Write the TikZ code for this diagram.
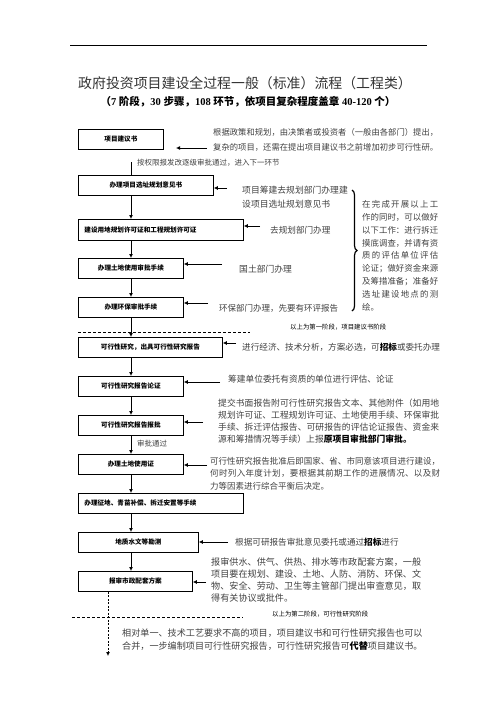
\documentclass[tikz,border=0pt]{standalone}
\usepackage{fontspec}
\setmainfont{Liberation Serif}
\newfontfamily\cjk{Noto Sans CJK SC}
\usetikzlibrary{arrows.meta,decorations.pathreplacing}
\makeatletter
\newcommand\jline[2]{\makebox[#1][s]{\jl@#2\@nil}}
\def\jl@#1#2\@nil{#1\ifx\relax#2\relax\else\hfil\jl@#2\@nil\fi}
\makeatother
\newcommand\hl[1]{{\color{black}\bfseries #1}}
\newcommand\dfont[2]{\cjk\fontsize{#1}{#2}\selectfont}

\begin{document}
\begin{tikzpicture}[x=1pt,y=-1pt,
  box/.style={draw,line width=0.8pt,anchor=north west,inner sep=0pt,minimum height=20pt,
    font=\cjk\bfseries\fontsize{6.6}{8}\selectfont},
  desc/.style={inner sep=0pt,text=black!75,align=left},
  stage/.style={inner sep=0pt,anchor=west,font=\dfont{6.4}{8}},
  flow/.style={-{Latex[length=4pt,width=4pt]},line width=0.9pt},
  sep/.style={line width=0.7pt,dash pattern=on 3pt off 2pt}]
  \useasboundingbox (0,0) rectangle (496,702);

  % heading
  \coordinate (ruleL) at (70,45);
  \coordinate (ruleR) at (427,45);
  \draw[line width=0.8pt] (ruleL) -- (ruleR);
  \node[text=black!80,font=\dfont{13.9}{16}] (title) at (245,83) {政府投资项目建设全过程一般（标准）流程（工程类）};
  \node[font=\bfseries\fontsize{10.5}{12}\selectfont] (sub) at (248,102)
    {{\cjk （}7 {\cjk 阶段，}30 {\cjk 步骤，}108 {\cjk 环节，依项目复杂程度盖章} 40-120 {\cjk 个）}};

  % steps
  \node[box,minimum width=85pt]  (b1)  at (78,129) {项目建议书};
  \node[box,minimum width=135pt] (b2)  at (78,175) {办理项目选址规划意见书};
  \node[box,minimum width=165pt,minimum height=21pt,text width=153pt,align=left] (b3) at (78,219) {建设用地规划许可证和工程规划许可证};
  \node[box,minimum width=105pt] (b4)  at (78,258) {办理土地使用审批手续};
  \node[box,minimum width=105pt] (b5)  at (78,297) {办理环保审批手续};
  \node[box,minimum width=144pt] (b6)  at (78,337) {可行性研究，出具可行性研究报告};
  \node[box,minimum width=105pt] (b7)  at (78,376) {可行性研究报告论证};
  \node[box,minimum width=105pt] (b8)  at (78,415) {可行性研究报告报批};
  \node[box,minimum width=105pt] (b9)  at (78,454) {办理土地使用证};
  \node[box,minimum width=165pt,text width=153pt,align=left] (b10) at (78,493) {办理征地、青苗补偿、拆迁安置等手续};
  \node[box,minimum width=120pt] (b11) at (78,532) {地质水文等勘测};
  \node[box,minimum width=114pt] (b12) at (78,571) {报审市政配套方案};

  % main line
  \coordinate (spine) at (131,0);
  \coordinate (b1gap) at (131,162);
  \draw[line width=0.9pt] (b1gap) -- (b2.north -| spine);
  \foreach \a/\b in {b2/b3,b3/b4,b4/b5,b5/b6,b6/b7,b7/b8,b8/b9,b9/b10,b10/b11,b11/b12} {
      \draw[flow] (\a.south -| spine) -- (\b.north -| spine);
  }
  \coordinate (fin) at (108,656);
  \draw[flow,dash pattern=on 2pt off 1.5pt] (b12.south -| fin) -- (fin);

  % arrows from the notes
  \coordinate (a1) at (207,148);
  \coordinate (a1e) at (176,148);
  \draw[flow] (a1) -- (a1e);
  \foreach \n/\x/\y in {2/227/188,3/260/226,4/222/264,5/208/303,6/236/343,7/220/382,8/203/422,9/207/465,11/228/542,12/206/582} {
      \coordinate (a\n) at (\x,\y);
      \draw[flow] (a\n) -- (a\n -| b\n.east);
  }

  % stage one notes
  \node[desc,anchor=north west,font=\dfont{8.3}{15}] (d1) at (213,128)
    {\jline{225pt}{根据政策和规划，由决策者或投资者（一般由各部门）提出，}\\
     \jline{225pt}{复杂的项目，还需在提出项目建议书之前增加初步可行性研。}};
  \node[desc,anchor=west,font=\dfont{7.5}{9}] (n1) at (137,163) {按权限报发改逐级审批通过，进入下一环节};
  \node[desc,anchor=north west,font=\dfont{8.8}{14}] (d2) at (242,186) {项目筹建去规划部门办理建\\设项目选址规划意见书};
  \node[desc,anchor=west,font=\dfont{8.6}{10}] (d3) at (270,230) {去规划部门办理};
  \node[desc,anchor=west,font=\dfont{8.8}{10}] (d4) at (239,269) {国土部门办理};
  \node[desc,anchor=west,font=\dfont{8.5}{10}] (d5) at (219,308) {环保部门办理，先要有环评报告};
  \coordinate (brT) at (352,190);
  \coordinate (brB) at (352,311);
  \draw[decorate,decoration={brace,amplitude=5pt},line width=1.2pt] (brT) -- (brB);
  \node[desc,anchor=north west,font=\dfont{8.4}{12.9}] (d6) at (362,200)
    {\jline{76pt}{在完成开展以上工}\\ \jline{76pt}{作的同时，可以做好}\\ \jline{76pt}{以下工作：进行拆迁}\\
     \jline{76pt}{摸底调查，并请有资}\\ \jline{76pt}{质的评估单位评估}\\ \jline{76pt}{论证；做好资金来源}\\
     \jline{76pt}{及筹措准备；准备好}\\ \jline{76pt}{选址建设地点的测}\\ 绘。};
  \coordinate (sep1a) at (78,332);
  \coordinate (sep1b) at (250,332);
  \draw[sep] (sep1a) -- (sep1b);
  \node[stage] (s1) at (290,327) {以上为第一阶段，项目建议书阶段};

  % stage two notes
  \node[desc,anchor=west,font=\dfont{8.6}{10}] (d7) at (242,347) {进行经济、技术分析，方案必选，可\hl{招标}或委托办理};
  \node[desc,anchor=west,font=\dfont{8.7}{10}] (d8) at (228,379) {筹建单位委托有资质的单位进行评估、论证};
  \node[desc,anchor=north west,font=\dfont{8.8}{11.8}] (d9) at (218,399)
    {\jline{221pt}{提交书面报告附可行性研究报告文本、其他附件（如用地}\\
     \jline{221pt}{规划许可证、工程规划许可证、土地使用手续、环保审批}\\
     \jline{221pt}{手续、拆迁评估报告、可研报告的评估论证报告、资金来}\\
     源和筹措情况等手续）上报\hl{原项目审批部门审批。}};
  \node[desc,anchor=west,font=\dfont{7.5}{9}] (n2) at (137,444) {审批通过};
  \node[desc,anchor=north west,font=\dfont{8.5}{12.5}] (d10) at (210,457)
    {\jline{230pt}{可行性研究报告批准后即国家、省、市同意该项目进行建设，}\\
     \jline{230pt}{何时列入年度计划，要根据其前期工作的进展情况、以及财}\\
     力等因素进行综合平衡后决定。};
  \node[desc,anchor=west,font=\dfont{8.6}{10}] (d11) at (235,542) {根据可研报告审批意见委托或通过\hl{招标}进行};
  \node[desc,anchor=north west,font=\dfont{9.1}{12}] (d12) at (211,558)
    {\jline{210pt}{报审供水、供气、供热、排水等市政配套方案，一般}\\
     \jline{210pt}{项目要在规划、建设、土地、人防、消防、环保、文}\\
     \jline{210pt}{物、安全、劳动、卫生等主管部门提出审查意见，取}\\
     得有关协议或批件。};
  \coordinate (sep2a) at (72,617);
  \coordinate (sep2b) at (243,617);
  \draw[sep] (sep2a) -- (sep2b);
  \node[stage] (s2) at (272,614) {以上为第二阶段，可行性研究阶段};
  \node[desc,anchor=north west,font=\dfont{9.1}{13}] (d13) at (122,629)
    {\jline{293pt}{相对单一、技术工艺要求不高的项目，项目建议书和可行性研究报告也可以}\\
     合并，一步编制项目可行性研究报告，可行性研究报告可\hl{代替}项目建议书。};
\end{tikzpicture}
\end{document}
